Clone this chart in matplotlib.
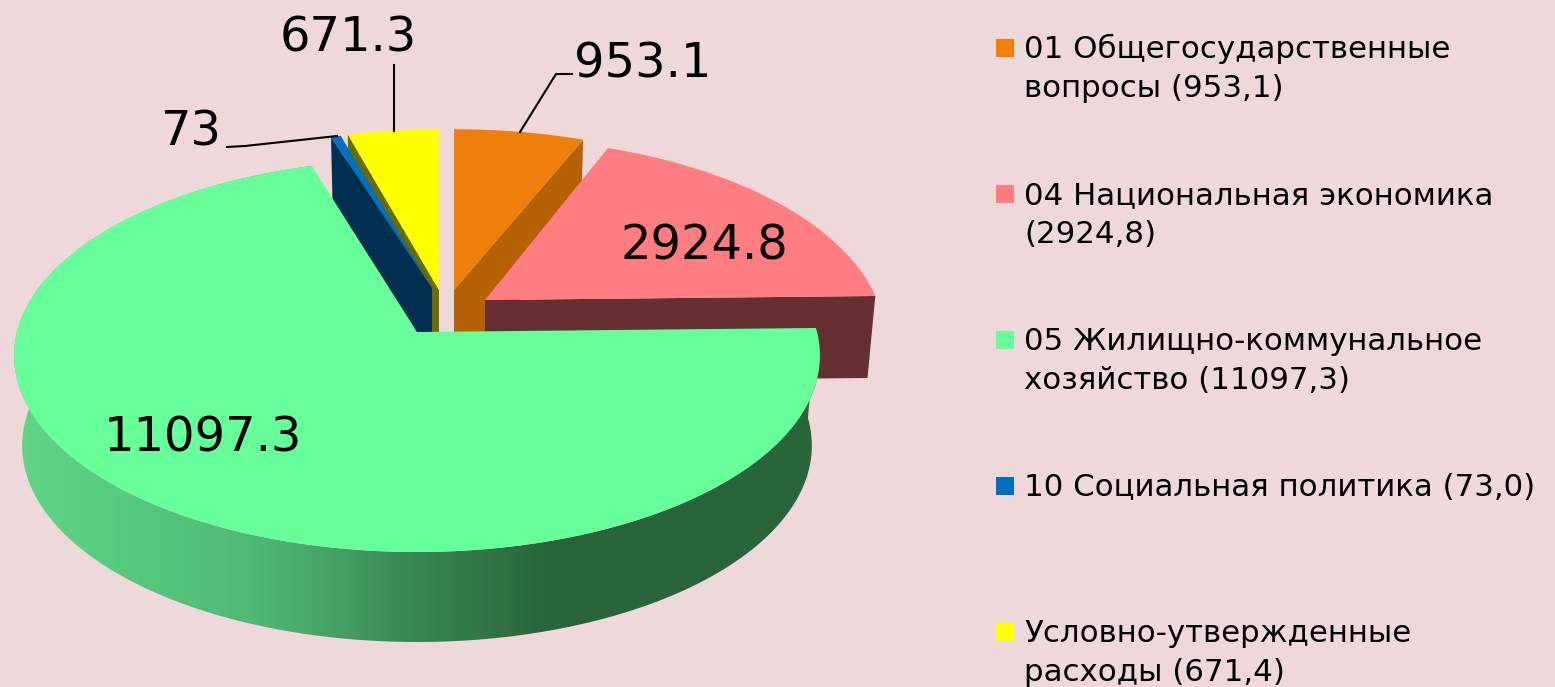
import numpy as np
import matplotlib
matplotlib.use("Agg")
import matplotlib.pyplot as plt
from matplotlib.patches import Polygon, Rectangle
from matplotlib.colors import to_rgb

# ---------- data ----------
categories = ["orange", "pink", "green", "blue", "yellow"]
values = [953.1, 2924.8, 11097.3, 73, 671.3]
legend_lines = [
    ["01 Общегосударственные", "вопросы (953,1)"],
    ["04 Национальная экономика", "(2924,8)"],
    ["05 Жилищно-коммунальное", "хозяйство (11097,3)"],
    ["10 Социальная политика (73,0)"],
    ["Условно-утвержденные", "расходы (671,4)"],
]

# ---------- styles and geometry (pixels) ----------
BG = "#EED8D9"
top_col = dict(orange="#EE7F08", pink="#FF7C80", green="#66FF99", blue="#0070C0", yellow="#FFFF00")
wall_col = dict(orange="#B56205", pink="#652F33", blue="#002F52", yellow="#6B6B00")
legend_col = ["#F58000", "#FF7C80", "#66FF99", "#0070C0", "#FFFF00"]
geom = dict(
    orange=dict(a=(454, 290), rx=386, ry=180, k=.12, d=88),
    pink=dict(a=(485, 300), rx=392, ry=194, k=.20, d=82),
    green=dict(a=(417, 332), rx=400, ry=193.6, k=.12, d=90),
    blue=dict(a=(432, 288), rx=384, ry=176, k=.12, d=88),
    yellow=dict(a=(439, 290), rx=384, ry=180, k=.12, d=88),
)
wall_side = dict(orange="end", pink="end", blue="start", yellow="start")
label_pos = dict(orange=(643, 78), pink=(704, 260), green=(203, 452), blue=(191, 146), yellow=(348, 52))
leaders = [
    ([572, 556, 520], [74, 74, 132]),
    ([394, 394], [65, 131]),
    ([227, 245, 337], [147, 146, 136]),
]
legend_y = [(58, 97), (204, 243), (350, 389), (496,), (642, 681)]
LEG_FS = 22.2
LAB_FS = 34.6

plt.rcParams["font.family"] = ["DejaVu Sans"]
fig = plt.figure(figsize=(15.55, 6.87), dpi=100, facecolor=BG)
ax = fig.add_axes([0, 0, 1, 1])
ax.set_facecolor(BG)
ax.axis("off")


def project(theta, g):
    u, v = np.sin(theta), np.cos(theta)
    s = 1 / (1 + g["k"] * v)
    return g["a"][0] + g["rx"] * u * s, g["a"][1] - g["ry"] * v * s


def extrude(x, y, g):
    return g["a"][0] + (np.asarray(x) - g["a"][0]) * 0.98, np.asarray(y) + g["d"]


# angular extents from the values
edges = np.concatenate([[0], np.cumsum(values)]) / np.sum(values) * 2 * np.pi
span = {c: (edges[i], edges[i + 1]) for i, c in enumerate(categories)}

z = 1
for c in ["yellow", "blue", "orange", "pink", "green"]:
    g = geom[c]
    t0, t1 = span[c]
    th = np.linspace(t0, t1, 240)
    x, y = project(th, g)
    if c == "green":
        bx, by = extrude(x, y, g)
        wall = Polygon(np.r_[np.c_[x, y], np.c_[bx, by][::-1]], closed=True,
                       fc="none", ec="none")
        ax.add_patch(wall)
        px = np.arange(1555)
        stops_x = [0, 100, 250, 320, 390, 550, 1555]
        stops = [to_rgb(s) for s in ["#62D888", "#58CD80", "#4FB975", "#47A668", "#3A8E5A", "#29653A", "#29653A"]]
        grad = np.stack([np.interp(px, stops_x, [s[i] for s in stops]) for i in range(3)], axis=-1)[None, :, :]
        im = ax.imshow(grad, extent=(0, 1555, 687, 0), aspect="auto", zorder=z)
        im.set_clip_path(wall)
    else:
        t = t1 if wall_side[c] == "end" else t0
        ex, ey = project(t, g)
        bx, by = extrude([ex, g["a"][0]], [ey, g["a"][1]], g)
        pts = [(ex, ey), g["a"], (bx[1], by[1]), (bx[0], by[0])]
        ax.add_patch(Polygon(pts, closed=True, fc=wall_col[c], ec="none", zorder=z))
    z += 1
    ax.add_patch(Polygon(np.r_[[g["a"]], np.c_[x, y]], closed=True, fc=top_col[c], ec="none", zorder=z))
    z += 1

ax.set_xlim(0, 1555)
ax.set_ylim(687, 0)

for lx, ly in leaders:
    ax.plot(lx, ly, color="black", lw=1.5, zorder=z, solid_joinstyle="miter")
z += 1

for c, v in zip(categories, values):
    px, py = label_pos[c]
    ax.text(px, py, f"{v:g}", fontsize=LAB_FS, ha="center", va="baseline", color="black", zorder=z)

for lines, ys, col in zip(legend_lines, legend_y, legend_col):
    ax.add_patch(Rectangle((996, ys[0] - 19), 18, 18, fc=col, ec="none", zorder=z))
    for line, yy in zip(lines, ys):
        ax.text(1024, yy, line, fontsize=LEG_FS, ha="left", va="baseline", color="black", zorder=z)

fig.savefig("out.png", dpi=100, facecolor=BG)
